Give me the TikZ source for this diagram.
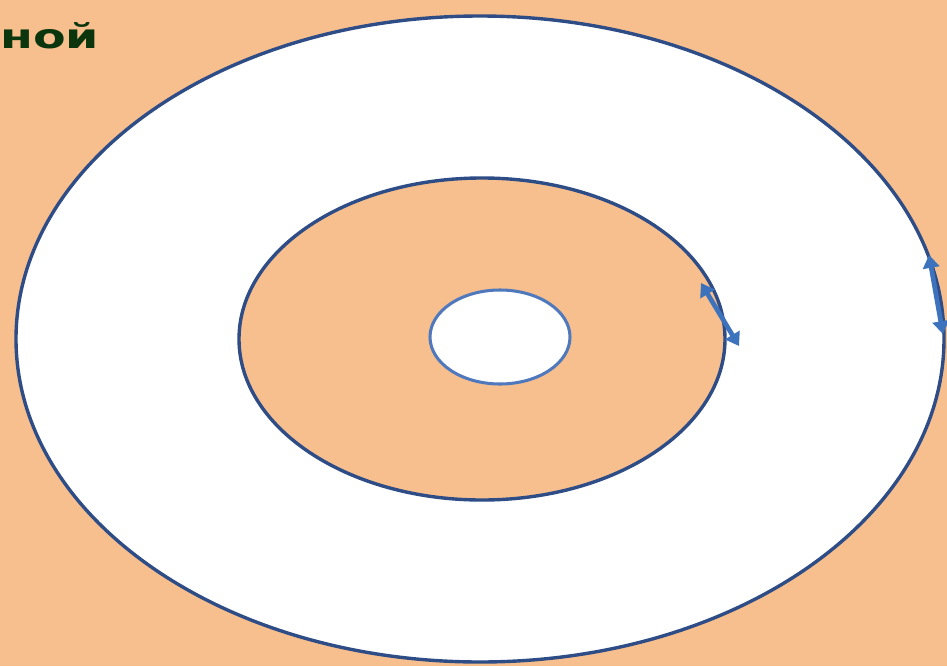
\documentclass[tikz,border=0pt]{standalone}
\usepackage{fontspec}
\newfontfamily\lblfont{DejaVu Sans}
\usetikzlibrary{arrows.meta}
\definecolor{peach}{HTML}{F8BF8E}
\definecolor{ringblue}{HTML}{2E4C86}
\definecolor{holeblue}{HTML}{5079BD}
\definecolor{arrblue}{HTML}{3D72BD}
\definecolor{txtgreen}{HTML}{0B360D}
\tikzset{
  ring/.style={ringblue,line width=2.9pt},
  flow/.style={arrblue,line width=4pt,{Triangle[length=11pt,width=14pt]}-{Triangle[length=11pt,width=14pt]}},
  caption/.style={txtgreen,font=\lblfont\bfseries\fontsize{29}{31}\selectfont,inner sep=0pt,xscale=1.4}
}
\begin{document}
\begin{tikzpicture}[x=0.03cm,y=-0.03cm]
\useasboundingbox (0,0) rectangle (947,666);
\clip (0,0) rectangle (947,666);
\fill[peach] (0,0) rectangle (947,666);
% rings
\draw[ring,fill=white] (480,339) ellipse [x radius=464,y radius=323];
\draw[ring,fill=peach] (482,339) ellipse [x radius=243,y radius=161];
\draw[holeblue,line width=2.6pt,fill=white] (500,337) ellipse [x radius=70,y radius=47];
% arrows on the rings
\coordinate (m1) at (701,283); \coordinate (m2) at (739,346);
\coordinate (o1) at (929,255); \coordinate (o2) at (943,334);
\draw[flow] (m1)--(m2);
\draw[flow] (o1)--(o2);
% cut text
\node[caption,anchor=base west] (t1) at (18,-9) {у};
\node[caption,anchor=base west] (t2) at (0,48) {ной};
\end{tikzpicture}
\end{document}
